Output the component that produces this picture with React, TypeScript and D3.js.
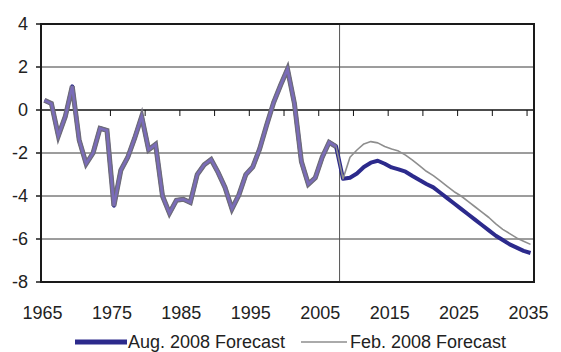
import React, { useRef, useEffect } from "react";
import * as d3 from "d3";

// categories
const years = d3.range(1965, 2036);
const historyYears = d3.range(1965, 2008);
const forecastYears = d3.range(2008, 2036);

// series values
const history = [
  0.45, 0.3, -1.2, -0.3, 1.1, -1.4, -2.5, -2.0, -0.85, -0.95,
  -4.45, -2.8, -2.2, -1.3, -0.3, -1.85, -1.6, -4.0, -4.8, -4.2,
  -4.15, -4.3, -3.0, -2.55, -2.3, -2.9, -3.6, -4.6, -3.95, -3.0,
  -2.65, -1.8, -0.7, 0.35, 1.15, 1.9, 0.3, -2.4, -3.45, -3.15,
  -2.2, -1.5, -1.7,
];
const augForecast = [
  -3.2, -3.15, -2.95, -2.65, -2.45, -2.36, -2.5, -2.67, -2.76, -2.87,
  -3.07, -3.26, -3.44, -3.6, -3.85, -4.1, -4.35, -4.6, -4.85, -5.1,
  -5.35, -5.6, -5.85, -6.05, -6.25, -6.4, -6.55, -6.65,
];
const febForecast = [
  -3.2, -2.2, -1.86, -1.58, -1.47, -1.53, -1.7, -1.81, -1.91, -2.1,
  -2.33, -2.59, -2.85, -3.05, -3.3, -3.55, -3.8, -4.0, -4.25, -4.5,
  -4.75, -5.0, -5.3, -5.55, -5.75, -5.95, -6.1, -6.25,
];

// tick labels
const yTicks = [4, 2, 0, -2, -4, -6, -8];
const xLabelYears = [1965, 1975, 1985, 1995, 2005, 2015, 2025, 2035];
const xTickYears = d3.range(1970, 2036, 5);
const seriesNames = ["Aug. 2008 Forecast", "Feb. 2008 Forecast"];
const forecastStart = 2008;

const width = 561;
const height = 352;
const margin = { top: 24, right: 27, bottom: 70, left: 41 };
const font = "'Liberation Sans', Arial, sans-serif";

const App: React.FC = () => {
  const svgRef = useRef<SVGSVGElement>(null);

  useEffect(() => {
    const svg = d3.select(svgRef.current);
    svg.selectAll("*").remove();

    const x = d3
      .scaleBand<number>()
      .domain(years)
      .range([margin.left, width - margin.right])
      .padding(0);
    const cx = (yr: number) => (x(yr) ?? 0) + x.bandwidth() / 2;

    const y = d3
      .scaleLinear()
      .domain([-8, 4])
      .range([height - margin.bottom, margin.top]);

    // gridlines
    svg
      .append("g")
      .selectAll("line")
      .data(yTicks.filter((t) => t !== 0))
      .join("line")
      .attr("x1", margin.left)
      .attr("x2", width - margin.right)
      .attr("y1", (d) => y(d))
      .attr("y2", (d) => y(d))
      .attr("stroke", "#3a3a3a")
      .attr("stroke-width", 1);

    // forecast divider
    svg
      .append("line")
      .attr("x1", x(forecastStart) ?? 0)
      .attr("x2", x(forecastStart) ?? 0)
      .attr("y1", margin.top)
      .attr("y2", height - margin.bottom)
      .attr("stroke", "#555")
      .attr("stroke-width", 1);

    // zero axis with ticks
    svg
      .append("line")
      .attr("x1", margin.left)
      .attr("x2", width - margin.right)
      .attr("y1", y(0))
      .attr("y2", y(0))
      .attr("stroke", "#111")
      .attr("stroke-width", 1.3);
    svg
      .append("g")
      .selectAll("line")
      .data(xTickYears)
      .join("line")
      .attr("x1", (d) => x(d) ?? 0)
      .attr("x2", (d) => x(d) ?? 0)
      .attr("y1", y(0))
      .attr("y2", y(0) + 6)
      .attr("stroke", "#111")
      .attr("stroke-width", 1);

    // frame
    svg
      .append("rect")
      .attr("x", margin.left)
      .attr("y", margin.top)
      .attr("width", width - margin.left - margin.right)
      .attr("height", height - margin.top - margin.bottom)
      .attr("fill", "none")
      .attr("stroke", "#1a1a1a")
      .attr("stroke-width", 2);

    // y ticks + labels
    svg
      .append("g")
      .selectAll("line")
      .data(yTicks)
      .join("line")
      .attr("x1", margin.left - 5)
      .attr("x2", margin.left)
      .attr("y1", (d) => y(d))
      .attr("y2", (d) => y(d))
      .attr("stroke", "#1a1a1a")
      .attr("stroke-width", 1.5);
    svg
      .append("g")
      .selectAll("text")
      .data(yTicks)
      .join("text")
      .attr("x", 28)
      .attr("y", (d) => y(d))
      .attr("dy", "0.36em")
      .attr("text-anchor", "end")
      .attr("font-family", font)
      .attr("font-size", 18)
      .attr("fill", "#222")
      .text((d) => String(d));

    // x labels
    svg
      .append("g")
      .selectAll("text")
      .data(xLabelYears)
      .join("text")
      .attr("x", (d) => cx(d) - 2)
      .attr("y", 319)
      .attr("text-anchor", "middle")
      .attr("font-family", font)
      .attr("font-size", 18)
      .attr("fill", "#222")
      .text((d) => String(d));

    const line = d3
      .line<[number, number]>()
      .x((d) => cx(d[0]))
      .y((d) => y(d[1]));

    const histPts: [number, number][] = historyYears.map((yr, i) => [yr, history[i]]);
    const augPts: [number, number][] = histPts.concat(
      forecastYears.map((yr, i) => [yr, augForecast[i]] as [number, number])
    );
    const febPts: [number, number][] = histPts.concat(
      forecastYears.map((yr, i) => [yr, febForecast[i]] as [number, number])
    );

    svg
      .append("path")
      .attr("d", line(augPts))
      .attr("fill", "none")
      .attr("stroke", "#2c2a8c")
      .attr("stroke-width", 4)
      .attr("stroke-linejoin", "round");
    svg
      .append("path")
      .attr("d", line(febPts))
      .attr("fill", "none")
      .attr("stroke", "#8e8e8e")
      .attr("stroke-width", 1.6)
      .attr("stroke-linejoin", "round");

    // history drawn as shared segment
    svg
      .append("path")
      .attr("d", line(histPts))
      .attr("fill", "none")
      .attr("stroke", "#6e6c78")
      .attr("stroke-width", 5)
      .attr("stroke-linejoin", "miter");
    svg
      .append("path")
      .attr("d", line(histPts))
      .attr("fill", "none")
      .attr("stroke", "#7a6cb8")
      .attr("stroke-width", 2.6)
      .attr("stroke-linejoin", "miter");

    // legend
    const legend = svg.append("g").attr("font-family", font).attr("font-size", 18).attr("fill", "#222");
    legend
      .append("line")
      .attr("x1", 75)
      .attr("x2", 127)
      .attr("y1", 342)
      .attr("y2", 342)
      .attr("stroke", "#2c2a8c")
      .attr("stroke-width", 5);
    legend.append("text").attr("x", 128).attr("y", 348).text(seriesNames[0]);
    legend
      .append("line")
      .attr("x1", 301)
      .attr("x2", 347)
      .attr("y1", 342)
      .attr("y2", 342)
      .attr("stroke", "#8e8e8e")
      .attr("stroke-width", 1.6);
    legend.append("text").attr("x", 350).attr("y", 348).text(seriesNames[1]);
  }, []);

  return (
    <svg
      ref={svgRef}
      width={width}
      height={height}
      style={{ position: "absolute", left: 0, top: 0, background: "#fff" }}
    />
  );
};

export default App;
